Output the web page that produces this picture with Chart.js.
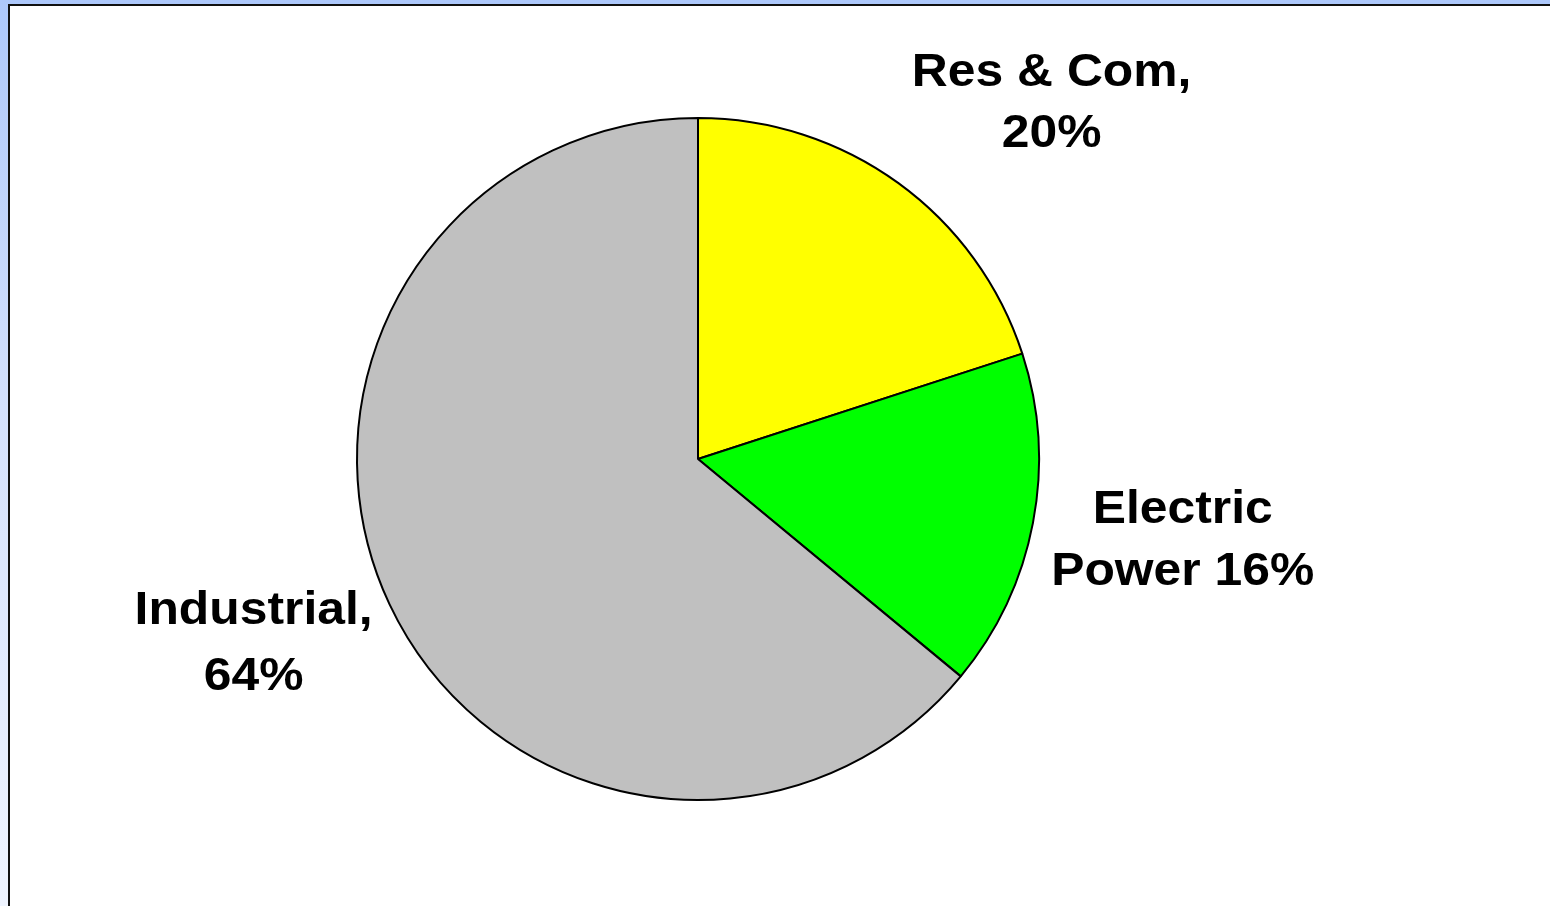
<!DOCTYPE html>
<html>
<head>
<meta charset="utf-8">
<script src="https://cdn.jsdelivr.net/npm/chart.js@4/dist/chart.umd.min.js"></script>
<style>
  html, body { margin: 0; padding: 0; }
  body {
    width: 1550px; height: 906px; overflow: hidden; position: relative;
    background: linear-gradient(to bottom, #adc8fb 0%, #d4e1fc 45%, #eff4ff 100%);
  }
  #frame {
    position: absolute; left: 8px; top: 4px; right: 0; bottom: 0;
    background: #ffffff;
    border-left: 2px solid #111111;
    border-top: 2px solid #111111;
  }
  #chart { position: absolute; left: 0; top: 0; }
</style>
</head>
<body>
<div id="frame"></div>
<canvas id="chart" width="1550" height="906"></canvas>
<script>
const categories = ["Res & Com", "Electric Power", "Industrial"]
const shares = [20, 16, 64]
const labelLines = [
  ["Res & Com,", "20%"],
  ["Electric", "Power 16%"],
  ["Industrial,", "64%"],
]
const sliceColors = ["#ffff00", "#00ff00", "#c0c0c0"]

// label placement relative to each slice's mid angle
const labelLayout = [
  { dx: 63, dy: 41, lineHeight: 61 },
  { dx: -1, dy: -14, lineHeight: 62 },
  { dx: 3, dy: -29, lineHeight: 66 },
]

const sliceLabels = {
  id: "sliceLabels",
  afterDatasetsDraw(chart) {
    const ctx = chart.ctx
    const meta = chart.getDatasetMeta(0)
    const fontSize = 47
    const stretch = 1.06 // source text is a touch wider than plain Arial
    ctx.save()
    ctx.font = "bold " + fontSize + "px 'Liberation Sans', Arial, sans-serif"
    ctx.fillStyle = "#000000"
    ctx.textAlign = "center"
    ctx.textBaseline = "alphabetic"
    meta.data.forEach((arc, i) => {
      const p = arc.getProps(["x", "y", "startAngle", "endAngle", "outerRadius"], true)
      const mid = (p.startAngle + p.endAngle) / 2
      const dist = p.outerRadius * 1.45
      const lay = labelLayout[i]
      const cx = p.x + Math.cos(mid) * dist + lay.dx
      const cy = p.y + Math.sin(mid) * dist + lay.dy
      const lines = labelLines[i]
      const capH = fontSize * 0.716
      let y = cy - (lay.lineHeight * (lines.length - 1)) / 2 + capH / 2
      lines.forEach((line) => {
        ctx.save()
        ctx.translate(cx, y)
        ctx.scale(stretch, 1)
        ctx.fillText(line, 0, 0)
        ctx.restore()
        y += lay.lineHeight
      })
    })
    ctx.restore()
  },
}

new Chart(document.getElementById("chart").getContext("2d"), {
  type: "pie",
  data: {
    labels: categories,
    datasets: [
      {
        data: shares,
        backgroundColor: sliceColors,
        borderColor: "#000000",
        borderWidth: 2,
      },
    ],
  },
  options: {
    responsive: false,
    animation: false,
    layout: { padding: { left: 356, right: 510, top: 116, bottom: 104 } },
    plugins: {
      legend: { display: false },
      tooltip: { enabled: false },
    },
  },
  plugins: [sliceLabels],
})
</script>
</body>
</html>
